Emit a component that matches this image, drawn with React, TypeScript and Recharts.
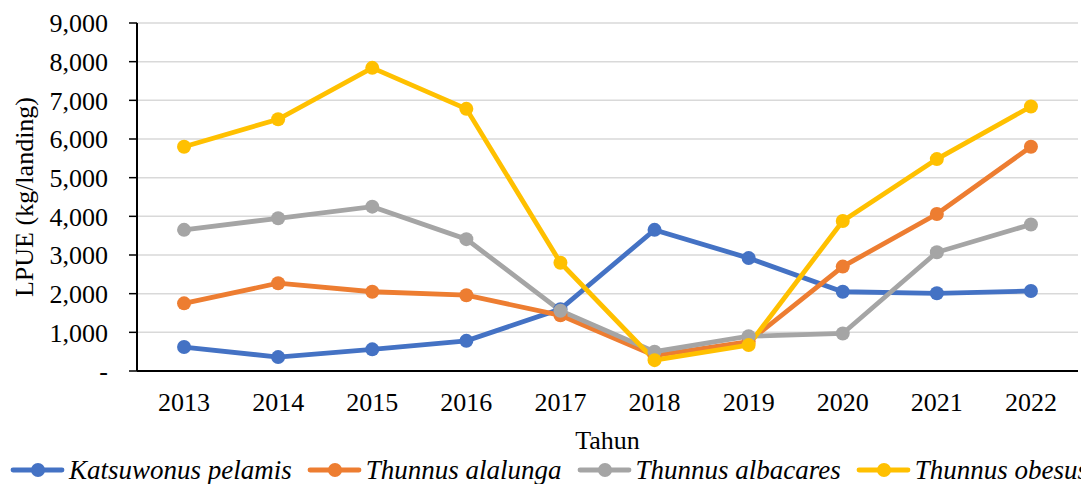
import React from "react";
import { LineChart, Line, XAxis, YAxis, CartesianGrid, Label } from "recharts";

const years = [2013, 2014, 2015, 2016, 2017, 2018, 2019, 2020, 2021, 2022];
const katsuwonus = [620, 360, 560, 780, 1600, 3650, 2920, 2050, 2010, 2070];
const alalunga = [1750, 2270, 2050, 1960, 1440, 400, 760, 2700, 4060, 5800];
const albacares = [3650, 3950, 4250, 3410, 1560, 500, 900, 970, 3070, 3790];
const obesus = [5800, 6510, 7840, 6780, 2800, 280, 670, 3880, 5480, 6840];

const seriesKeys = ["katsuwonus", "alalunga", "albacares", "obesus"];
const seriesNames = ["Katsuwonus pelamis", "Thunnus alalunga", "Thunnus albacares", "Thunnus obesus"];
const colors = ["#4472C4", "#ED7D31", "#A5A5A5", "#FFC000"];
const yTicks = [0, 1000, 2000, 3000, 4000, 5000, 6000, 7000, 8000, 9000];

const data = years.map((year, i) => ({
  year,
  katsuwonus: katsuwonus[i],
  alalunga: alalunga[i],
  albacares: albacares[i],
  obesus: obesus[i],
}));

// category borders, where Excel puts the x tick marks
const borderTicks = [...years.map((y) => y - 0.5), years[years.length - 1] + 0.5];
const xDomain = [borderTicks[0], borderTicks[borderTicks.length - 1]];

const FONT = '"Liberation Serif", "Times New Roman", serif';
const tickStyle = { fontSize: 26, fontFamily: FONT, fill: "#000" };

export default function App() {
  return (
    <div style={{ position: "absolute", left: 0, top: 0, width: 1081, height: 486, background: "#fff", overflow: "hidden" }}>
      <LineChart width={1081} height={486} data={data} margin={{ top: 23, right: 3, bottom: 113, left: 0 }}>
        <CartesianGrid vertical={false} stroke="#d9d9d9" strokeWidth={1.5} />
        <XAxis
          dataKey="year"
          type="number"
          domain={xDomain}
          ticks={borderTicks}
          tick={false}
          height={1}
          axisLine={{ stroke: "#000", strokeWidth: 2 }}
          tickLine={{ stroke: "#000", strokeWidth: 1.5 }}
          tickSize={8}
        />
        <XAxis
          xAxisId="lbl"
          dataKey="year"
          type="number"
          domain={xDomain}
          ticks={years}
          height={1}
          axisLine={false}
          tickLine={false}
          tickSize={0}
          tickMargin={21}
          tick={tickStyle}
          interval={0}
        >
          <Label
            content={(props: any) => {
              const vb = props.viewBox;
              return (
                <text x={vb.x + vb.width / 2} y={vb.y + 77} textAnchor="middle" fontSize={26} fontFamily={FONT} fill="#000">
                  Tahun
                </text>
              );
            }}
          />
        </XAxis>
        <YAxis
          width={137}
          domain={[0, 9000]}
          ticks={yTicks}
          interval={0}
          tickFormatter={(v: number) => (v === 0 ? "-" : v.toLocaleString("en-US"))}
          tick={tickStyle}
          axisLine={{ stroke: "#000", strokeWidth: 2 }}
          tickLine={{ stroke: "#000", strokeWidth: 1.5 }}
          tickSize={8}
          tickMargin={21}
        >
          <Label
            content={(props: any) => {
              const vb = props.viewBox;
              const cx = vb.x + 24;
              const cy = vb.y + vb.height / 2;
              return (
                <text
                  x={cx}
                  y={cy}
                  transform={`rotate(-90, ${cx}, ${cy})`}
                  textAnchor="middle"
                  dominantBaseline="central"
                  fontSize={26}
                  fontFamily={FONT}
                  fill="#000"
                >
                  LPUE (kg/landing)
                </text>
              );
            }}
          />
        </YAxis>
        {seriesKeys.map((key, i) => (
          <Line
            key={key}
            dataKey={key}
            name={seriesNames[i]}
            type="linear"
            stroke={colors[i]}
            strokeWidth={4.8}
            dot={{ r: 7, fill: colors[i], stroke: colors[i], strokeWidth: 0 }}
            activeDot={false}
            isAnimationActive={false}
          />
        ))}
      </LineChart>
      <div
        style={{
          position: "absolute",
          left: 10,
          top: 456,
          width: 1071,
          height: 28,
          display: "flex",
          alignItems: "center",
          whiteSpace: "nowrap",
          overflow: "hidden",
          fontFamily: FONT,
          fontStyle: "italic",
          fontSize: 27,
          lineHeight: "28px",
          color: "#000",
        }}
      >
        {seriesNames.map((name, i) => (
          <div key={name} style={{ display: "flex", alignItems: "center", marginRight: 15, flexShrink: 0 }}>
            <svg width={55} height={20}>
              <line x1={3} y1={10} x2={52} y2={10} stroke={colors[i]} strokeWidth={4.8} strokeLinecap="round" />
              <circle cx={28} cy={10} r={7} fill={colors[i]} />
            </svg>
            <span style={{ marginLeft: 4 }}>{name}</span>
          </div>
        ))}
      </div>
    </div>
  );
}
